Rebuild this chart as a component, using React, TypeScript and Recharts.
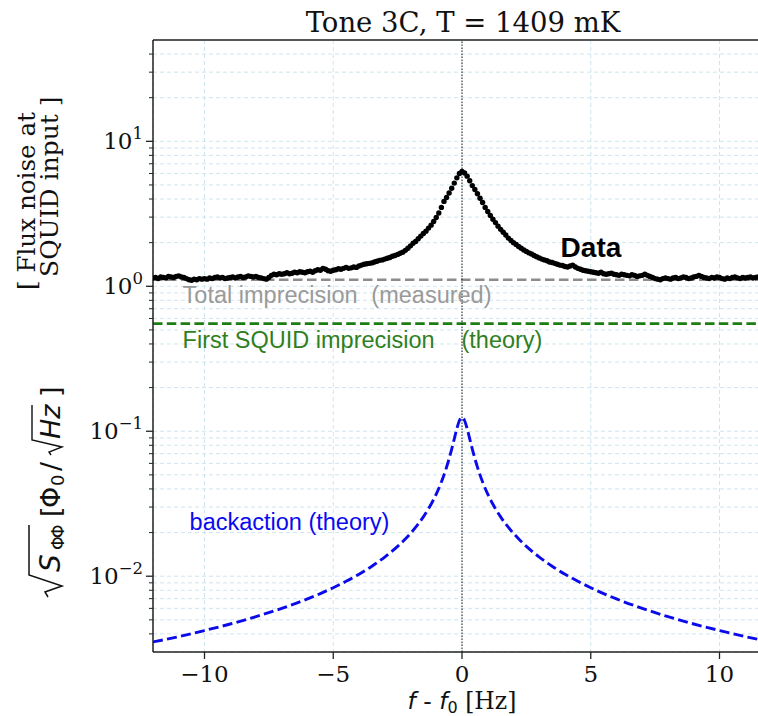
import React from 'react';
import {
  ComposedChart,
  Line,
  Scatter,
  XAxis,
  YAxis,
  CartesianGrid,
  ReferenceLine,
} from 'recharts';

// ---------- data ----------
const FREQ_START = -12;
const FREQ_STEP = 0.1;

// measured flux noise, one value per 0.1 Hz bin from -12.0 to 12.0 Hz
const DATA_VALUES = [
  1.14, 1.15, 1.13, 1.16, 1.15, 1.14, 1.17, 1.16, 1.15, 1.17,
  1.18, 1.16, 1.15, 1.13, 1.11, 1.10, 1.12, 1.11, 1.13, 1.12,
  1.13, 1.12, 1.14, 1.13, 1.15, 1.16, 1.14, 1.15, 1.13, 1.14,
  1.15, 1.16, 1.14, 1.16, 1.17, 1.15, 1.16, 1.18, 1.17, 1.16,
  1.17, 1.15, 1.14, 1.13, 1.12, 1.15, 1.19, 1.21, 1.20, 1.22,
  1.21, 1.22, 1.24, 1.22, 1.23, 1.25, 1.24, 1.26, 1.25, 1.24,
  1.26, 1.27, 1.25, 1.28, 1.30, 1.29, 1.33, 1.31, 1.28, 1.27,
  1.29, 1.30, 1.32, 1.31, 1.33, 1.35, 1.33, 1.34, 1.36, 1.35,
  1.38, 1.40, 1.42, 1.43, 1.44, 1.45, 1.47, 1.49, 1.51, 1.52,
  1.54, 1.56, 1.58, 1.61, 1.63, 1.66, 1.69, 1.72, 1.77, 1.83,
  1.90, 1.98, 2.04, 2.13, 2.22, 2.31, 2.40, 2.52, 2.64, 2.80,
  2.98, 3.20, 3.50, 3.85, 4.10, 4.40, 4.75, 5.15, 5.60, 6.00,
  6.20, 6.05, 5.75, 5.35, 4.95, 4.65, 4.35, 4.05, 3.78, 3.50,
  3.28, 3.08, 2.90, 2.75, 2.60, 2.47, 2.36, 2.26, 2.15, 2.07,
  2.00, 1.94, 1.88, 1.83, 1.78, 1.74, 1.70, 1.67, 1.63, 1.60,
  1.57, 1.54, 1.52, 1.50, 1.47, 1.46, 1.44, 1.42, 1.40, 1.39,
  1.37, 1.36, 1.38, 1.40, 1.36, 1.33, 1.31, 1.29, 1.28, 1.27,
  1.26, 1.25, 1.24, 1.23, 1.25, 1.22, 1.21, 1.22, 1.23, 1.21,
  1.20, 1.19, 1.21, 1.20, 1.19, 1.18, 1.20, 1.19, 1.17, 1.18,
  1.19, 1.21, 1.19, 1.17, 1.15, 1.13, 1.12, 1.11, 1.13, 1.14,
  1.13, 1.12, 1.14, 1.15, 1.13, 1.14, 1.16, 1.15, 1.13, 1.14,
  1.16, 1.17, 1.19, 1.17, 1.15, 1.14, 1.13, 1.15, 1.14, 1.16,
  1.15, 1.13, 1.12, 1.14, 1.13, 1.15, 1.16, 1.14, 1.13, 1.15,
  1.14, 1.15, 1.16, 1.14, 1.15, 1.16, 1.15, 1.14, 1.16, 1.15,
  1.14,
];

// backaction theory curve
const BA_FREQ = [
  -12, -11, -10, -9, -8, -7, -6, -5.5, -5, -4.5, -4, -3.5, -3, -2.75, -2.5, -2.25,
  -2, -1.75, -1.5, -1.25, -1, -0.8, -0.6, -0.5, -0.4, -0.3, -0.2, -0.1, 0,
  0.1, 0.2, 0.3, 0.4, 0.5, 0.6, 0.8, 1, 1.25, 1.5, 1.75, 2, 2.25, 2.5, 2.75,
  3, 3.5, 4, 4.5, 5, 5.5, 6, 7, 8, 9, 10, 11, 12,
];
const BA_VALUE = [
  0.00352, 0.00383, 0.00422, 0.00468, 0.00526, 0.006, 0.00697, 0.00759, 0.00833,
  0.00922, 0.01032, 0.01172, 0.01356, 0.01471, 0.01607, 0.01772, 0.01975, 0.02231,
  0.02566, 0.03024, 0.03685, 0.04468, 0.0565, 0.0648, 0.0754, 0.0886, 0.1041,
  0.1186, 0.125,
  0.1186, 0.1041, 0.0886, 0.0754, 0.0648, 0.0565, 0.04468, 0.03685, 0.03024,
  0.02566, 0.02231, 0.01975, 0.01772, 0.01607, 0.01471, 0.01356, 0.01172, 0.01032,
  0.00922, 0.00833, 0.00759, 0.00697, 0.006, 0.00526, 0.00468, 0.00422, 0.00383,
  0.00352,
];

const TOTAL_IMPRECISION = 1.11;
const SQUID_IMPRECISION = 0.552;

const X_DOMAIN = [-12, 12];
const X_TICKS = [-10, -5, 0, 5, 10];
const Y_DOMAIN = [0.003, 50];
const Y_MAJOR_TICKS = [0.01, 0.1, 1, 10];
const Y_MINOR_TICKS = [
  0.004, 0.005, 0.006, 0.007, 0.008, 0.009,
  0.02, 0.03, 0.04, 0.05, 0.06, 0.07, 0.08, 0.09,
  0.2, 0.3, 0.4, 0.5, 0.6, 0.7, 0.8, 0.9,
  2, 3, 4, 5, 6, 7, 8, 9,
  20, 30, 40,
];

const ANNOTATIONS = [
  { f: 3.83, v: 1.585, text: 'Data', color: '#000000', weight: 700, size: 28 },
  { f: -10.85, v: 0.763, text: 'Total imprecision', color: '#9a9a9a', weight: 400, size: 23.5 },
  { f: -3.52, v: 0.763, text: '(measured)', color: '#9a9a9a', weight: 400, size: 23.5 },
  { f: -10.85, v: 0.373, text: 'First SQUID imprecision', color: '#2f7f1f', weight: 400, size: 23.5 },
  { f: -0.02, v: 0.373, text: '(theory)', color: '#2f7f1f', weight: 400, size: 23.5 },
  { f: -10.58, v: 0.0207, text: 'backaction (theory)', color: '#0a0af0', weight: 400, size: 23.5 },
];

// ---------- derived tables ----------
const dataRows = DATA_VALUES.map((v, i) => ({
  f: Math.round((FREQ_START + i * FREQ_STEP) * 10) / 10,
  v,
}));
const baRows = BA_FREQ.map((f, i) => ({ f, v: BA_VALUE[i] }));
const totalRows = X_DOMAIN.map((f) => ({ f, v: TOTAL_IMPRECISION }));
const squidRows = X_DOMAIN.map((f) => ({ f, v: SQUID_IMPRECISION }));
const yTicks = [...Y_MINOR_TICKS, ...Y_MAJOR_TICKS].sort((a, b) => a - b);

const SERIF = "'DejaVu Serif', serif";
const SANS = "'DejaVu Sans', sans-serif";
const ARIAL = "'Liberation Sans', Arial, sans-serif";

const YTick = (props: any) => {
  const { x, y, payload } = props;
  const axisX = x + 10; // tickSize 7 + tickMargin 3
  const val = payload.value;
  const major = Y_MAJOR_TICKS.some((m) => Math.abs(m - val) / m < 1e-6);
  const exp = Math.round(Math.log10(val));
  const expText = exp < 0 ? '\u2212' + Math.abs(exp) : String(exp);
  return (
    <g>
      <line
        x1={axisX - (major ? 7 : 4)}
        x2={axisX}
        y1={y}
        y2={y}
        stroke="#222"
        strokeWidth={major ? 1.3 : 1}
      />
      {major && (
        <text
          x={axisX - 10}
          y={y + 8}
          textAnchor="end"
          fontFamily={SERIF}
          fontSize={23}
          fill="#111"
        >
          <tspan>10</tspan>
          <tspan dy={-10} fontSize={16.5}>
            {expText}
          </tspan>
        </text>
      )}
    </g>
  );
};

const XTick = (props: any) => {
  const { x, y, payload } = props;
  const v = payload.value;
  const label = v < 0 ? '\u2212' + Math.abs(v) : String(v);
  return (
    <text x={x} y={y + 21} textAnchor="middle" fontFamily={SERIF} fontSize={23} fill="#111">
      {label}
    </text>
  );
};

const makeAnnotationShape = (a: any) => (props: any) => {
  const { cx, cy } = props;
  return (
    <text
      x={cx}
      y={cy}
      fontFamily={ARIAL}
      fontSize={a.size}
      fontWeight={a.weight}
      fill={a.color}
    >
      {a.text}
    </text>
  );
};

export default function App() {
  return (
    <div
      style={{
        position: 'absolute',
        left: 0,
        top: 0,
        width: 758,
        height: 716,
        overflow: 'hidden',
        background: '#fff',
      }}
    >
      <ComposedChart
        width={772}
        height={716}
        margin={{ top: 40, right: 1, bottom: 0, left: 0 }}
      >
        <CartesianGrid
          stroke="#cae2ec"
          strokeDasharray="4 3"
          strokeWidth={0.9}
        />
        <XAxis
          type="number"
          dataKey="f"
          domain={X_DOMAIN}
          ticks={X_TICKS}
          interval={0}
          allowDataOverflow
          height={64}
          tickSize={7}
          tickMargin={2}
          tickLine={{ stroke: '#222', strokeWidth: 1.3 }}
          axisLine={{ stroke: '#222', strokeWidth: 1.5 }}
          tick={<XTick />}
        />
        <YAxis
          type="number"
          dataKey="v"
          scale="log"
          domain={Y_DOMAIN}
          ticks={yTicks}
          interval={0}
          allowDataOverflow
          width={153}
          tickSize={7}
          tickMargin={3}
          tickLine={false}
          axisLine={{ stroke: '#222', strokeWidth: 1.5 }}
          tick={<YTick />}
        />
        <ReferenceLine y={50} stroke="#222" strokeWidth={1.5} />
        <Line
          data={totalRows}
          dataKey="v"
          stroke="#8c8c8c"
          strokeWidth={2.6}
          strokeDasharray="9.5 4.5"
          dot={false}
          isAnimationActive={false}
        />
        <Line
          data={squidRows}
          dataKey="v"
          stroke="#1b7d12"
          strokeWidth={2.8}
          strokeDasharray="9.5 4.3"
          dot={false}
          isAnimationActive={false}
        />
        <Line
          data={baRows}
          dataKey="v"
          type="monotone"
          stroke="#0a0aeb"
          strokeWidth={2.9}
          strokeDasharray="10 4.3"
          dot={false}
          isAnimationActive={false}
        />
        <Line
          data={dataRows}
          dataKey="v"
          stroke="none"
          dot={{ r: 2.7, fill: '#000', stroke: 'none' }}
          isAnimationActive={false}
        />
        <ReferenceLine x={0} stroke="#000" strokeWidth={0.9} strokeDasharray="1.5 1.5" />
        {ANNOTATIONS.map((a, i) => (
          <Scatter
            key={i}
            data={[{ f: a.f, v: a.v }]}
            dataKey="v"
            shape={makeAnnotationShape(a)}
            isAnimationActive={false}
          />
        ))}
      </ComposedChart>
      <svg
        width={758}
        height={716}
        style={{ position: 'absolute', left: 0, top: 0, pointerEvents: 'none' }}
      >
        <text x={463} y={31.5} textAnchor="middle" fontFamily={SERIF} fontSize={27.5} fill="#111">
          Tone 3C, T = 1409 mK
        </text>
        <text
          x={462}
          y={709}
          textAnchor="middle"
          fill="#111"
          fontSize={23.5}
          fontFamily={SANS}
          style={{ whiteSpace: 'pre' }}
        >
          <tspan fontStyle="italic">f</tspan>
          <tspan> - </tspan>
          <tspan fontStyle="italic">f</tspan>
          <tspan fontSize={16} dy={4}>0</tspan>
          <tspan dy={-4} fontFamily={SERIF}> [Hz]</tspan>
        </text>
        {/* upper y label */}
        <text
          x={35}
          y={290}
          transform="rotate(-90 35 290)"
          fontFamily={SERIF}
          fontSize={25}
          fill="#111"
          textLength={178}
          lengthAdjust="spacingAndGlyphs"
          style={{ whiteSpace: 'pre' }}
        >
          [ Flux noise at
        </text>
        <text
          x={58}
          y={277}
          transform="rotate(-90 58 277)"
          fontFamily={SERIF}
          fontSize={25}
          fill="#111"
          style={{ whiteSpace: 'pre' }}
        >
          SQUID input ]
        </text>
        {/* lower y label */}
        <g transform="translate(60 597) rotate(-90)" fill="#111" fontFamily={SANS}>
          <path d="M0,-12 L5,-15 L11,2 L22,-31 L72,-31" fill="none" stroke="#111" strokeWidth={1.5} />
          <text x={25} y={0} fontSize={28} fontStyle="italic">S</text>
          <text x={47} y={4} fontSize={17.5} letterSpacing={-2}>ΦΦ</text>
          <text x={80} y={0} fontSize={27}>[</text>
          <text x={89} y={0} fontSize={27}>Φ</text>
          <text x={111} y={4} fontSize={18}>0</text>
          <text x={126} y={0} fontSize={27}>/</text>
          <path d="M142,-9 L145,-11 L150,2 L157,-28 L192,-28" fill="none" stroke="#111" strokeWidth={1.4} />
          <text x={158} y={0} fontSize={27} fontStyle="italic">Hz</text>
          <text x={200} y={0} fontSize={27}>]</text>
        </g>
      </svg>
    </div>
  );
}
